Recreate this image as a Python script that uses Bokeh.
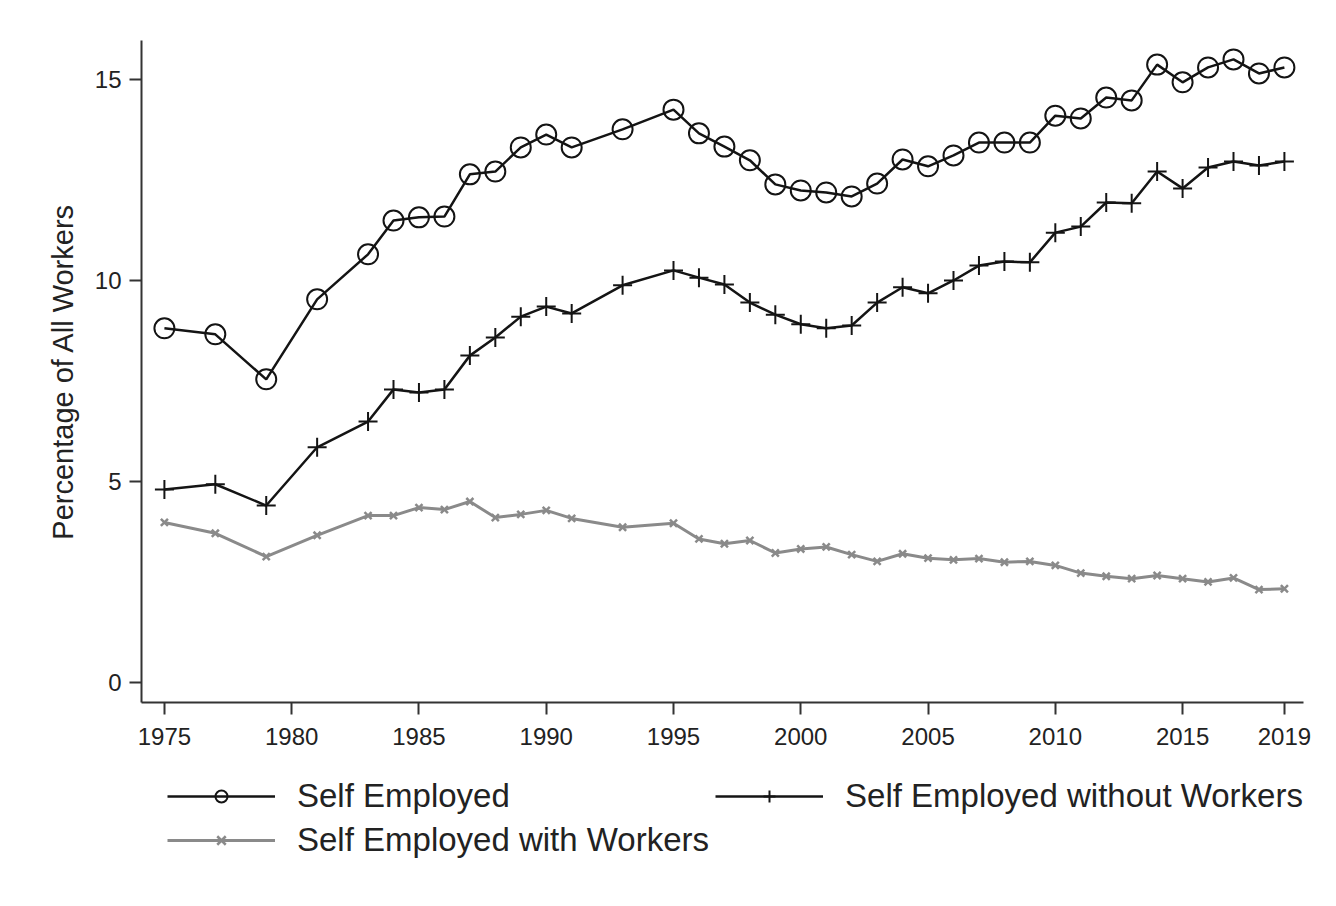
from bokeh.plotting import figure
from bokeh.layouts import column
from bokeh.models import Range1d, Legend, LegendItem, FixedTicker
from bokeh.embed import file_html
from bokeh.resources import INLINE

# Survey years (gaps in 1976, 1978, 1980, 1982, 1992, 1994)
years = [1975, 1977, 1979, 1981, 1983, 1984, 1985, 1986, 1987, 1988, 1989,
         1990, 1991, 1993, 1995, 1996, 1997, 1998, 1999, 2000, 2001, 2002,
         2003, 2004, 2005, 2006, 2007, 2008, 2009, 2010, 2011, 2012, 2013,
         2014, 2015, 2016, 2017, 2018, 2019]

self_employed = [8.81, 8.66, 7.54, 9.53, 10.65, 11.49, 11.57, 11.59, 12.64,
                 12.71, 13.31, 13.63, 13.31, 13.76, 14.25, 13.66, 13.33,
                 12.99, 12.39, 12.24, 12.19, 12.09, 12.41, 13.01, 12.84,
                 13.11, 13.43, 13.43, 13.43, 14.10, 14.03, 14.55, 14.48,
                 15.37, 14.93, 15.30, 15.50, 15.15, 15.30]

without_workers = [4.80, 4.93, 4.40, 5.85, 6.49, 7.29, 7.21, 7.29, 8.13,
                   8.58, 9.10, 9.35, 9.18, 9.88, 10.25, 10.07, 9.90, 9.45,
                   9.15, 8.91, 8.81, 8.88, 9.45, 9.83, 9.68, 10.00, 10.37,
                   10.47, 10.45, 11.19, 11.34, 11.94, 11.92, 12.71, 12.29,
                   12.81, 12.96, 12.86, 12.96]

with_workers = [3.98, 3.71, 3.13, 3.66, 4.15, 4.15, 4.35, 4.30, 4.50, 4.10,
                4.18, 4.28, 4.08, 3.86, 3.96, 3.57, 3.45, 3.53, 3.22, 3.32,
                3.37, 3.18, 3.01, 3.20, 3.09, 3.05, 3.08, 2.99, 3.01, 2.91,
                2.72, 2.64, 2.58, 2.66, 2.58, 2.50, 2.60, 2.31, 2.33]

labels = ["Self Employed", "Self Employed without Workers",
          "Self Employed with Workers"]

x_ticks = [1975, 1980, 1985, 1990, 1995, 2000, 2005, 2010, 2015, 2019]
y_ticks = [0, 5, 10, 15]

FONT = "Liberation Sans"
BLACK = "#141414"
GRAY = "#8a8a8a"

styles = [
    dict(color=BLACK, lw=2.5, marker="circle", size=20, mlw=2),
    dict(color=BLACK, lw=2.5, marker="cross", size=19, mlw=2),
    dict(color=GRAY, lw=3, marker="x", size=10, mlw=2.5),
]
all_series = [self_employed, without_workers, with_workers]


def draw_series(fig):
    rs = []
    for series, st in zip(all_series, styles):
        rl = fig.line(years, series, color=st["color"], line_width=st["lw"])
        rm = fig.scatter(years, series, marker=st["marker"], size=st["size"],
                         fill_color=None, line_color=st["color"],
                         line_width=st["mlw"])
        rs.append([rl, rm])
    return rs


# main chart
p = figure(width=1320, height=762, output_backend="svg", toolbar_location=None,
           x_range=Range1d(1974.1, 2019.75), y_range=Range1d(-0.5, 15.97),
           min_border_left=141, min_border_right=17, min_border_top=40,
           min_border_bottom=60)
p.outline_line_color = None
p.grid.visible = False
draw_series(p)

for ax in (p.xaxis[0], p.yaxis[0]):
    ax.axis_line_color = "#333333"
    ax.axis_line_width = 2
    ax.major_tick_line_color = "#333333"
    ax.major_tick_line_width = 2
    ax.major_tick_in = 0
    ax.major_tick_out = 12
    ax.minor_tick_line_color = None
    ax.major_label_text_font = FONT
    ax.major_label_text_font_size = "24px"
    ax.major_label_text_color = "#222222"
    ax.major_label_standoff = 8

p.xaxis.major_label_standoff = 13
p.xaxis.ticker = FixedTicker(ticks=x_ticks)
p.yaxis.ticker = FixedTicker(ticks=y_ticks)
p.yaxis.axis_label = "Percentage of All Workers"
p.yaxis.axis_label_text_font = FONT
p.yaxis.axis_label_text_font_size = "29px"
p.yaxis.axis_label_text_font_style = "normal"
p.yaxis.axis_label_text_color = "#222222"
p.yaxis.axis_label_standoff = 13

# legend strip below the chart; its series sit outside the visible ranges,
# only their legend glyphs show
leg = figure(width=1320, height=128, output_backend="svg", toolbar_location=None,
             min_border=0, x_axis_type=None, y_axis_type=None,
             x_range=Range1d(0, 1), y_range=Range1d(0, 1))
leg.outline_line_color = None
leg.grid.visible = False
leg_rs = draw_series(leg)

items = [LegendItem(label=lab, renderers=rs) for lab, rs in zip(labels, leg_rs)]
legend = Legend(items=items, orientation="horizontal", ncols=2,
                location=(26, 31))
legend.border_line_color = None
legend.background_fill_alpha = 0
legend.padding = 0
legend.margin = 0
legend.spacing = 6
legend.glyph_width = 108
legend.glyph_height = 30
legend.label_standoff = 22
legend.label_text_font = FONT
legend.label_text_font_size = "33px"
legend.label_text_color = "#222222"
leg.add_layout(legend, "center")

layout = column(p, leg, spacing=0)
open("out.html", "w").write(file_html(layout, INLINE))
